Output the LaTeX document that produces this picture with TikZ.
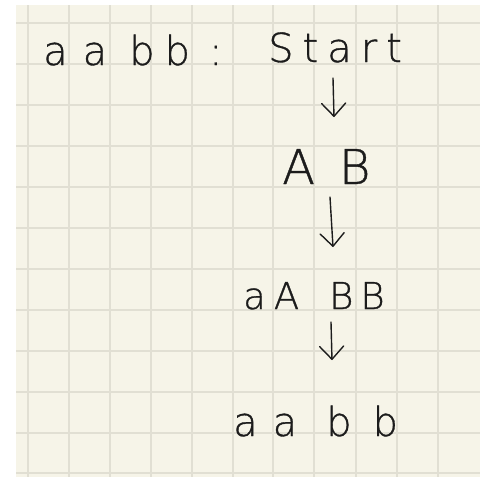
\documentclass[tikz,border=0pt]{standalone}
\usepackage{fontspec}
\usetikzlibrary{arrows.meta}
\newfontfamily\hw[FakeBold=0.8]{DejaVu Sans ExtraLight}
\definecolor{paper}{HTML}{F6F4E8}
\definecolor{gridc}{HTML}{E1DFD3}
\definecolor{ink}{HTML}{1C1C1C}
\begin{document}
\begin{tikzpicture}[x=1pt,y=-1pt,
  hwtext/.style={anchor=base west,inner sep=0pt,text=ink},
  derive/.style={draw=ink,line width=1.4pt,line cap=round,
    -{Straight Barb[length=13pt,width=24pt,line cap=round,line join=round]}},
  gridline/.style={draw=gridc,line width=1.5pt}]
\useasboundingbox (0,0) rectangle (480,477);
\fill[paper] (16,5) rectangle (480,477);
\foreach \x in {28,69,110,151,192,233,273,314,356,397,438}
  \draw[gridline] (\x,5) -- (\x,477);
\foreach \y in {23,64,105,146,187,228,269,310,351,392,433,473}
  \draw[gridline] (16,\y) -- (480,\y);

\node[hwtext,font=\hw\fontsize{40}{40}\selectfont] (word) at (43,65)
  {a\hspace{15pt}a\hspace{22pt}b\hspace{10pt}b\hspace{19pt}:};
\node[hwtext,font=\hw\fontsize{40}{40}\selectfont] (start) at (268,62)
  {S\hspace{9pt}t\hspace{9pt}a\hspace{9pt}r\hspace{9pt}t};
\node[hwtext,font=\hw\fontsize{48}{48}\selectfont] (ab) at (282,184)
  {A\hspace{24pt}B};
\node[hwtext,font=\hw\fontsize{37}{37}\selectfont] (aabb) at (243,309)
  {a\hspace{8pt}A\hspace{30pt}B\hspace{7pt}B};
\node[hwtext,font=\hw\fontsize{40}{40}\selectfont] (res) at (233,436)
  {a\hspace{15pt}a\hspace{29pt}b\hspace{21pt}b};

\coordinate (s1) at (333,78);  \coordinate (e1) at (334,117);
\coordinate (s2) at (330,197); \coordinate (e2) at (333,247);
\coordinate (s3) at (331,322); \coordinate (e3) at (332,360);
\draw[derive] (s1) -- (e1);
\draw[derive] (s2) -- (e2);
\draw[derive] (s3) -- (e3);
\end{tikzpicture}
\end{document}
